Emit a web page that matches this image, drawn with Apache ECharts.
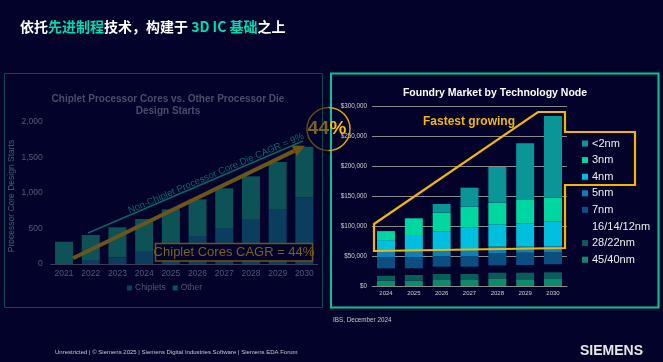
<!DOCTYPE html>
<html>
<head>
<meta charset="utf-8">
<script src="https://cdn.jsdelivr.net/npm/echarts@6/dist/echarts.min.js"></script>
<style>
html,body{margin:0;padding:0;background:#02022a;}
#c{width:663px;height:362px;}
</style>
</head>
<body>
<div id="c"></div>
<script>
// ---- Left chart data (design starts) ----
const years1 = ['2021','2022','2023','2024','2025','2026','2027','2028','2029','2030'];
const chiplets = [0, 56, 94, 183, 270, 394, 507, 634, 775, 939];
const other    = [314, 352, 423, 451, 500, 517, 559, 601, 662, 713];

// ---- Right chart data (foundry market, US$) ----
const years2 = ['2024','2025','2026','2027','2028','2029','2030'];
const nodeNames = ['45/40nm','28/22nm','16/14/12nm','7nm','5nm','4nm','3nm','<2nm'];
const n45  = [8800, 8800, 10000, 10000, 11700, 11200, 11700];
const n28  = [8300, 9500, 10000, 10000, 10500, 11000, 11200];
const n16  = [12300, 11200, 12200, 12200, 12200, 12800, 13300];
const n7   = [18300, 18300, 17800, 17800, 20000, 20500, 20500];
const n5   = [11000, 10500, 10000, 11700, 11200, 10000, 10000];
const n4   = [17800, 26700, 30500, 36200, 37200, 39000, 40500];
const n3   = [15000, 27800, 31700, 34300, 36200, 38800, 40300];
const nlt2 = [0, 0, 14500, 31700, 59300, 94500, 135800];
const nodeData = [n45, n28, n16, n7, n5, n4, n3, nlt2];
const nodeColors = ['#0c8a6a','#0b5b5a','transparent','#0a4f80','#0e7fb8','#00bedd','#00d6a0','#0a9696'];

const F = 'Liberation Sans, Arial, sans-serif';
const chart = echarts.init(document.getElementById('c'), null, {renderer:'canvas'});

const rightSeries = nodeNames.map((n,i)=>({
  name:n, type:'bar', stack:'node', xAxisIndex:1, yAxisIndex:1,
  data:nodeData[i], barWidth:18,
  itemStyle:{color:nodeColors[i]}
}));

const arrowTip=[305,145.7], arrowBase=[294.2,150.9];

chart.setOption({
  backgroundColor:'#02022a',
  animation:false,
  textStyle:{fontFamily:F},
  grid:[
    {left:50.7, top:122, width:267, height:142},
    {left:372.1, top:106, width:194.8, height:180}
  ],
  legend:[
    {data:['Chiplets','Other'], left:122, top:278.5, itemWidth:5, itemHeight:5, itemGap:7, icon:'rect',
     textStyle:{color:'#565872', fontSize:8.5, fontFamily:F, padding:[0,0,0,-2]}},
    {data:nodeNames.slice().reverse(), orient:'vertical', left:577, top:131.5, itemWidth:6, itemHeight:6, itemGap:2.6, icon:'rect',
     textStyle:{color:'#eeeeee', fontSize:11, lineHeight:14, fontFamily:F, padding:[0,0,0,-1]}}
  ],
  xAxis:[
    {gridIndex:0, type:'category', data:years1, axisLine:{lineStyle:{color:'#3a3c55'}}, axisTick:{show:false},
     axisLabel:{color:'#565872', fontSize:8.5, margin:5, fontFamily:F}},
    {gridIndex:1, type:'category', data:years2, axisLine:{lineStyle:{color:'#8a8a8a'}}, axisTick:{show:false},
     axisLabel:{color:'#d0d0d0', fontSize:6, margin:4.5, fontFamily:F}}
  ],
  yAxis:[
    {gridIndex:0, type:'value', min:0, max:2000, interval:500, splitLine:{show:false}, axisLine:{show:false}, axisTick:{show:false},
     axisLabel:{color:'#565872', fontSize:8.5, margin:8, fontFamily:F, formatter:v=>v.toLocaleString('en-US')}},
    {gridIndex:1, type:'value', min:0, max:300000, interval:50000, axisLine:{show:false}, axisTick:{show:false},
     splitLine:{lineStyle:{color:'#8a8a8a', width:1}},
     axisLabel:{color:'#d0d0d0', fontSize:6.3, margin:5, fontFamily:F, formatter:v=>'$'+v.toLocaleString('en-US')}}
  ],
  series:[
    {name:'Chiplets', type:'bar', stack:'l', xAxisIndex:0, yAxisIndex:0, data:chiplets, barWidth:18, itemStyle:{color:'#0b3d5e'}},
    {name:'Other', type:'bar', stack:'l', xAxisIndex:0, yAxisIndex:0, data:other, barWidth:18, itemStyle:{color:'#0c5256'}},
    ...rightSeries
  ],
  graphic:{elements:[
    // slide title
    {type:'text', x:20, y:27, z:10, style:{
      text:'{w|依托}{g|先进制程}{w|技术，构建于 }{g|3D IC 基础}{w|之上}',
      verticalAlign:'middle',
      rich:{
        w:{fill:'#ffffff', fontSize:14, fontWeight:'bold', fontFamily:'Noto Sans CJK SC, Liberation Sans'},
        g:{fill:'#00dcae', fontSize:14, fontWeight:'bold', fontFamily:'Noto Sans CJK SC, Liberation Sans'}
      }}},
    // panels
    {type:'rect', z:1, shape:{x:4.5, y:73.5, width:318, height:234}, style:{fill:'none', stroke:'#0c4a50', lineWidth:1}},
    {type:'rect', z:1, shape:{x:331, y:73.5, width:327.5, height:234}, style:{fill:'none', stroke:'#00c896', lineWidth:2}},
    // left title
    {type:'text', x:168, y:99, z:10, style:{text:'Chiplet Processor Cores vs. Other Processor Die', fill:'#4a4c68', fontSize:10, fontWeight:'bold', fontFamily:F, align:'center', verticalAlign:'middle'}},
    {type:'text', x:168, y:111.5, z:10, style:{text:'Design Starts', fill:'#4a4c68', fontSize:10, fontWeight:'bold', fontFamily:F, align:'center', verticalAlign:'middle'}},
    // left y axis name
    {type:'text', x:12, y:196, rotation:Math.PI/2, z:10, style:{text:'Processor Core Design Starts', fill:'#565872', fontSize:8.5, fontFamily:F, align:'center', verticalAlign:'middle'}},
    // non-chiplet CAGR line and text
    {type:'line', z:10, shape:{x1:88, y1:233, x2:303, y2:141}, style:{stroke:'#0b6464', lineWidth:1.5}},
    {type:'text', x:216, y:173.5, rotation:0.407, z:10, style:{text:'Non-Chiplet Processor Core Die CAGR = 9%', fill:'#0d6b6b', fontSize:9.5, fontFamily:F, align:'center', verticalAlign:'middle'}},
    // chiplet arrow
    {type:'line', z:11, shape:{x1:73, y1:258.3, x2:arrowBase[0], y2:arrowBase[1]}, style:{stroke:'#6b5519', lineWidth:4}},
    {type:'polygon', z:11, shape:{points:[arrowTip,[296.8,156.3],[291.6,145.5]]}, style:{fill:'#6b5519'}},
    // chiplet CAGR box
    {type:'rect', z:12, shape:{x:155.5, y:243.5, width:157, height:17.5}, style:{fill:'#02022a', stroke:'#6b5519', lineWidth:1.5}},
    {type:'text', x:234, y:252.5, z:13, style:{text:'Chiplet Cores CAGR = 44%', fill:'#7a6220', fontSize:13, fontFamily:F, align:'center', verticalAlign:'middle'}},
    // 44% circle
    {type:'arc', z:14, shape:{cx:328.5, cy:129, r:21.5, startAngle:Math.PI/2, endAngle:Math.PI*1.5, clockwise:true}, style:{stroke:'#5e4b14', lineWidth:1.5, fill:null}},
    {type:'arc', z:14, shape:{cx:328.5, cy:129, r:21.5, startAngle:-Math.PI/2, endAngle:Math.PI/2, clockwise:true}, style:{stroke:'#d9a800', lineWidth:1.5, fill:null}},
    {type:'text', x:329, y:129, z:15, style:{text:'44', fill:'#7a6220', fontSize:19, fontWeight:'bold', fontFamily:F, align:'right', verticalAlign:'middle'}},
    {type:'text', x:329.5, y:129, z:15, style:{text:'%', fill:'#f5c000', fontSize:19, fontWeight:'bold', fontFamily:F, align:'left', verticalAlign:'middle'}},
    // right title and annotation
    {type:'text', x:495, y:93, z:10, style:{text:'Foundry Market by Technology Node', fill:'#ffffff', fontSize:10.5, fontWeight:'bold', fontFamily:F, align:'center', verticalAlign:'middle'}},
    {type:'text', x:423, y:121.5, z:10, style:{text:'Fastest growing', fill:'#f5b800', fontSize:12, fontWeight:'bold', fontFamily:F, align:'left', verticalAlign:'middle'}},
    {type:'polygon', z:20, shape:{points:[[374,224],[538,112],[565,112],[565,132],[635,132],[635,185],[565,185],[565,248],[374,251]]},
     style:{fill:'none', stroke:'#f2b705', lineWidth:2.2}},
    // source & footer
    {type:'text', x:333, y:320.5, z:10, style:{text:'IBS, December 2024', fill:'#c8c8c8', fontSize:6.3, fontFamily:F, align:'left', verticalAlign:'middle'}},
    {type:'text', x:55, y:352.5, z:10, style:{text:'Unrestricted | © Siemens 2025 | Siemens Digital Industries Software | Siemens EDA Forum', fill:'#c8c8c8', fontSize:6, fontFamily:F, align:'left', verticalAlign:'middle'}},
    {type:'text', x:643, y:351.5, z:10, style:{text:'SIEMENS', fill:'#e6e6e6', fontSize:14, fontWeight:'bold', fontFamily:F, align:'right', verticalAlign:'middle'}}
  ]}
});
</script>
</body>
</html>
